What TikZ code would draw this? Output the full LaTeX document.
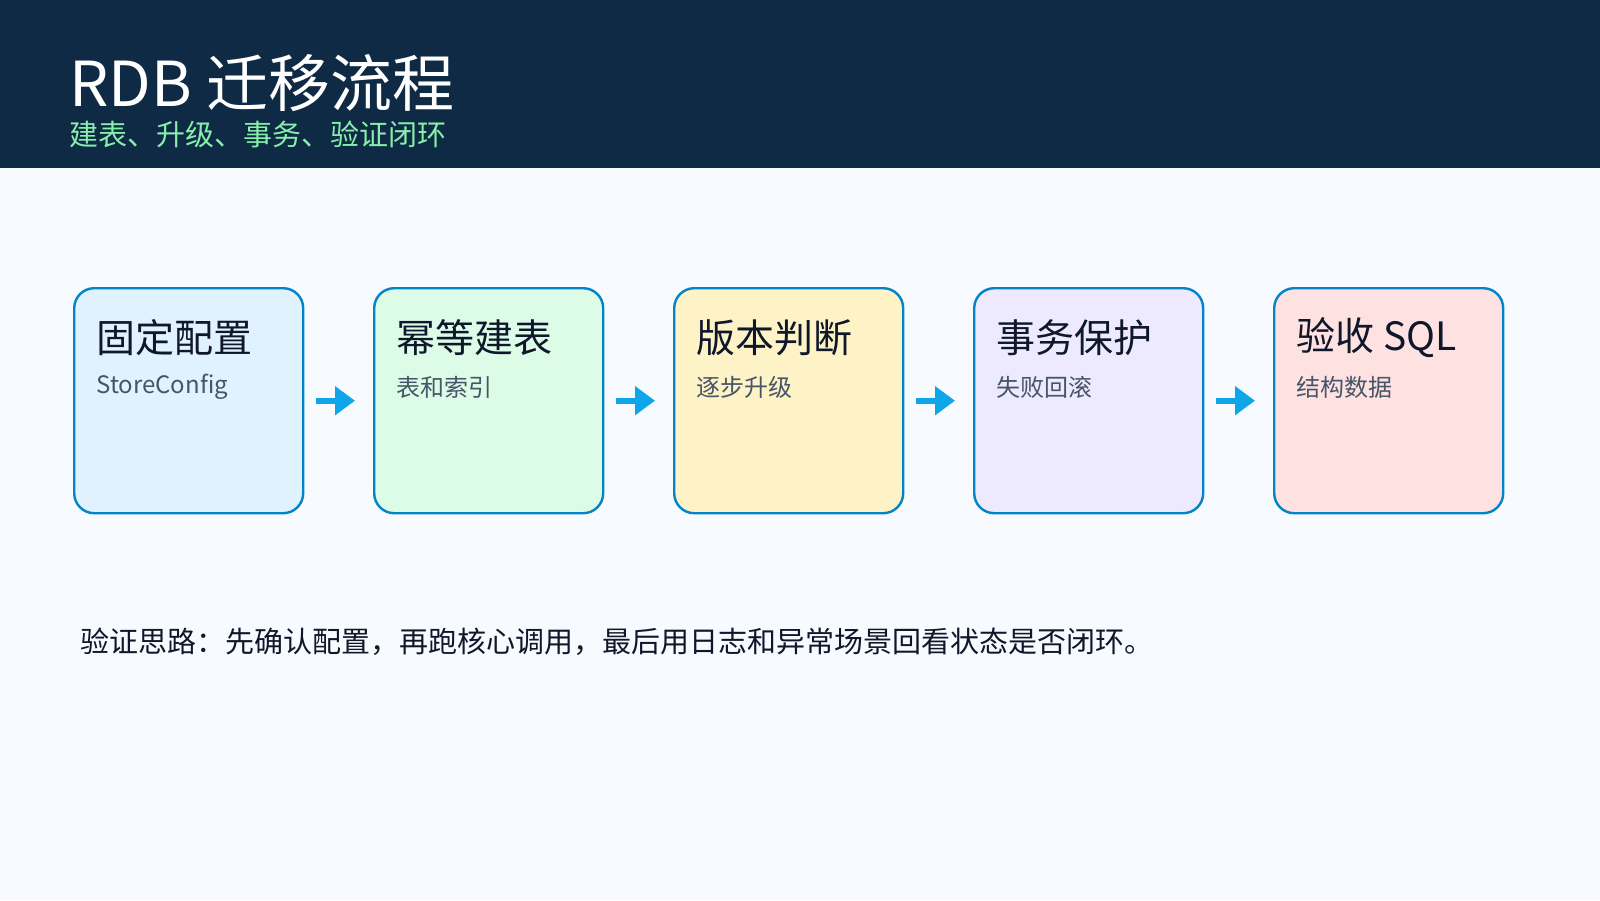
\documentclass[tikz,border=0pt]{standalone}
\usepackage{fontspec}
\setmainfont{Noto Sans CJK SC}
\usetikzlibrary{arrows.meta}
\definecolor{hdr}{HTML}{0F2A44}
\definecolor{bg}{HTML}{F7FAFE}
\definecolor{sub}{HTML}{86EFAC}
\definecolor{bord}{HTML}{0284C7}
\definecolor{arrc}{HTML}{0EA5E9}
\definecolor{ink}{HTML}{0F172A}
\definecolor{gray1}{HTML}{475569}
\definecolor{f1}{HTML}{E0F2FE}
\definecolor{f2}{HTML}{DCFCE7}
\definecolor{f3}{HTML}{FEF3C7}
\definecolor{f4}{HTML}{EDE9FE}
\definecolor{f5}{HTML}{FEE2E2}
\begin{document}
\begin{tikzpicture}[x=0.5pt,y=-0.5pt,
  box/.style={draw=bord,line width=1.2pt,rounded corners=10pt,minimum width=114.5pt,minimum height=112.5pt,anchor=north west,inner sep=0pt},
  btitle/.style={anchor=west,font=\fontsize{19.5}{22}\selectfont,text=ink,inner sep=0pt},
  bsub/.style={anchor=west,font=\fontsize{12}{14}\selectfont,text=gray1,inner sep=0pt},
  arr/.style={draw=arrc,line width=3pt,-{Triangle[length=10pt,width=14pt]},shorten <=6pt,shorten >=9pt}]
\useasboundingbox (0,0) rectangle (1600,900);
\fill[bg] (0,0) rectangle (1600,900);
\fill[hdr] (0,0) rectangle (1600,168);
\node[anchor=west,inner sep=0pt,text=white,font=\fontsize{31}{34}\selectfont] (t) at (69,83) {RDB 迁移流程};
\node[anchor=west,inner sep=0pt,text=sub,font=\fontsize{14.5}{17}\selectfont] (st) at (69,134) {建表、升级、事务、验证闭环};
\foreach \i/\f/\a/\b in {1/f1/固定配置/StoreConfig,2/f2/幂等建表/表和索引,3/f3/版本判断/逐步升级,4/f4/事务保护/失败回滚,5/f5/验收 SQL/结构数据}{
  \node[box,fill=\f] (b\i) at ({73+300*(\i-1)},287) {};
  \node[btitle] (bt\i) at ({96+300*(\i-1)},338) {\a};
  \node[bsub] (bs\i) at ({96+300*(\i-1)},387) {\b};
}
\foreach \i/\j in {1/2,2/3,3/4,4/5} \draw[arr] (b\i.east) -- (b\j.west);
\node[anchor=west,inner sep=0pt,text=ink,font=\fontsize{14.5}{17}\selectfont] (note) at (80,642) {验证思路：先确认配置，再跑核心调用，最后用日志和异常场景回看状态是否闭环。};
\end{tikzpicture}
\end{document}
